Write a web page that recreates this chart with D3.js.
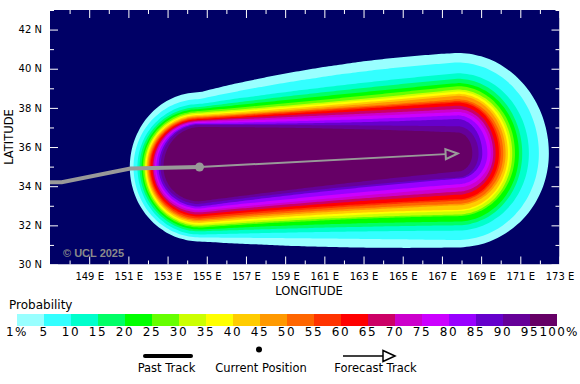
<!DOCTYPE html>
<html>
<head>
<meta charset="utf-8">
<script src="https://cdn.jsdelivr.net/npm/d3@7"></script>
<style>
  body { margin: 0; background: #fff; }
  text { font-family: "DejaVu Sans", sans-serif; }
</style>
</head>
<body>
<svg id="chart" width="580" height="384"></svg>
<script>
// probability levels (lower bound of each band) and colours
var levels = [1, 5, 10, 15, 20, 25, 30, 35, 40, 45, 50, 55, 60, 65, 70, 75, 80, 85, 90, 95];
var levelLabels = ["1%", "5", "10", "15", "20", "25", "30", "35", "40", "45", "50",
                   "55", "60", "65", "70", "75", "80", "85", "90", "95", "100%"];
var colors = ["#99ffff", "#33ffff", "#00ffcc", "#00ff66", "#00ff00", "#66ff00", "#ccff00",
              "#ffff00", "#ffcc00", "#ff9900", "#ff6600", "#ff3300", "#ff0000", "#cc0066",
              "#cc00cc", "#cc00ff", "#9900ff", "#6600cc", "#660099", "#660066"];

// contour extent of each level, degrees from the forecast track
// north/south half widths at current position, mid way, forecast end
var northStart = [3.82, 3.47, 3.22, 3.06, 2.96, 2.86, 2.78, 2.71, 2.66, 2.60, 2.55, 2.50, 2.45, 2.40, 2.35, 2.30, 2.25, 2.20, 2.15, 2.04];
var northMid   = [4.80, 4.30, 3.75, 3.50, 3.30, 3.12, 2.98, 2.90, 2.81, 2.72, 2.64, 2.59, 2.52, 2.42, 2.30, 2.18, 2.04, 1.91, 1.79, 1.62];
var northEnd   = [5.14, 4.65, 4.10, 3.82, 3.60, 3.44, 3.27, 3.17, 3.05, 2.95, 2.77, 2.68, 2.61, 2.44, 2.27, 2.12, 1.95, 1.76, 1.39, 1.07];
var southStart = [3.80, 3.60, 3.45, 3.29, 3.19, 3.09, 3.01, 2.94, 2.86, 2.78, 2.71, 2.63, 2.53, 2.43, 2.32, 2.22, 2.12, 2.02, 1.89, 1.76];
var southMid   = [4.43, 4.00, 3.66, 3.44, 3.27, 3.06, 2.98, 2.86, 2.76, 2.64, 2.55, 2.44, 2.35, 2.21, 2.08, 1.96, 1.79, 1.57, 1.45, 1.28];
var southEnd   = [4.80, 4.42, 3.94, 3.67, 3.48, 3.20, 3.12, 2.95, 2.88, 2.65, 2.57, 2.41, 2.34, 2.11, 1.95, 1.73, 1.57, 1.29, 1.23, 0.92];
// reach west of current position / east of forecast end
var westReach  = [3.56, 3.37, 3.17, 3.06, 2.96, 2.89, 2.81, 2.76, 2.71, 2.66, 2.60, 2.55, 2.50, 2.40, 2.35, 2.27, 2.20, 2.09, 1.99, 1.84];
var eastReach  = [4.66, 4.15, 3.64, 3.30, 3.13, 2.93, 2.79, 2.67, 2.57, 2.45, 2.33, 2.20, 2.11, 1.94, 1.82, 1.69, 1.52, 1.26, 1.07, 0.75];

// storm track
var pastLon = [146.0, 147.6, 151.1, 154.63];
var pastLat = [34.2, 34.2, 34.9, 34.98];
var current = [154.63, 34.98];
var forecastEnd = [167.8, 35.67];

// axes ticks
var lonMajor = d3.range(149, 174, 2);
var lonMinor = d3.range(148, 173, 2);
var latMajor = d3.range(30, 43, 2);
var latMinor = d3.range(31, 44, 2);

var svg = d3.select("#chart");
var x = d3.scaleLinear().domain([147, 173]).range([50, 559.5]);
var y = d3.scaleLinear().domain([30, 43]).range([264.5, 10]);

svg.append("defs").append("clipPath").attr("id", "plotclip")
  .append("rect").attr("x", 50).attr("y", 10).attr("width", 509.5).attr("height", 254.5);

var plot = svg.append("g").attr("clip-path", "url(#plotclip)");
plot.append("rect")
  .attr("x", 50).attr("y", 10).attr("width", 509.5).attr("height", 254.5)
  .attr("fill", "#000066");

// quadratic through start, mid, end
function quad(a, m, b, t) {
  return a * (1 - t) * (1 - 2 * t) + m * 4 * t * (1 - t) + b * t * (2 * t - 1);
}

function outline(i) {
  var pts = [], n = 48, k, t, a, ry;
  var dLon = forecastEnd[0] - current[0], dLat = forecastEnd[1] - current[1];
  for (k = 0; k <= n; k++) {
    t = k / n;
    pts.push([current[0] + t * dLon, current[1] + t * dLat + quad(northStart[i], northMid[i], northEnd[i], t)]);
  }
  for (k = 1; k < n; k++) {
    a = Math.PI / 2 - Math.PI * k / n;
    ry = a > 0 ? northEnd[i] : southEnd[i];
    pts.push([forecastEnd[0] + eastReach[i] * Math.cos(a), forecastEnd[1] + ry * Math.sin(a)]);
  }
  for (k = n; k >= 0; k--) {
    t = k / n;
    pts.push([current[0] + t * dLon, current[1] + t * dLat - quad(southStart[i], southMid[i], southEnd[i], t)]);
  }
  for (k = 1; k < n; k++) {
    a = -Math.PI / 2 - Math.PI * k / n;
    ry = Math.sin(a) > 0 ? northStart[i] : southStart[i];
    pts.push([current[0] + westReach[i] * Math.cos(a), current[1] + ry * Math.sin(a)]);
  }
  return pts;
}

var shape = d3.line().x(function(d) { return x(d[0]); }).y(function(d) { return y(d[1]); });
var smooth = d3.line().x(function(d) { return x(d[0]); }).y(function(d) { return y(d[1]); })
  .curve(d3.curveBasisClosed);

// probability bands, outer to inner
plot.selectAll("path.band").data(levels).enter().append("path")
  .attr("class", "band")
  .attr("d", function(d, i) { return smooth(outline(i)); })
  .attr("fill", function(d, i) { return colors[i]; });

// watermark
plot.append("text").attr("x", 63).attr("y", 257)
  .attr("font-size", 11).attr("font-weight", "bold").attr("fill", "#8a8a8a")
  .style("font-family", "'Liberation Sans', sans-serif")
  .text("\u00a9 UCL 2025");

// past track
var past = pastLon.map(function(d, i) { return [d, pastLat[i]]; });
plot.append("path").attr("d", shape(past))
  .attr("fill", "none").attr("stroke", "#999999").attr("stroke-width", 4);

// forecast track with open arrow head
var px0 = x(current[0]), py0 = y(current[1]), px1 = x(forecastEnd[0]), py1 = y(forecastEnd[1]);
var ang = Math.atan2(py1 - py0, px1 - px0), hl = 12, hw = 5;
var bx = px1 - hl * Math.cos(ang), by = py1 - hl * Math.sin(ang);
plot.append("line").attr("x1", px0).attr("y1", py0).attr("x2", bx).attr("y2", by)
  .attr("stroke", "#999999").attr("stroke-width", 2);
plot.append("path")
  .attr("d", "M" + px1 + "," + py1 +
    "L" + (bx - hw * Math.sin(ang)) + "," + (by + hw * Math.cos(ang)) +
    "L" + (bx + hw * Math.sin(ang)) + "," + (by - hw * Math.cos(ang)) + "Z")
  .attr("fill", "none").attr("stroke", "#999999").attr("stroke-width", 2);

plot.append("circle").attr("cx", px0).attr("cy", py0).attr("r", 4.5).attr("fill", "#999999");

// axes, ticks inside the frame
function styleAxis(g) {
  g.select(".domain").remove();
  g.selectAll(".tick line").attr("stroke", "#fff");
  g.selectAll(".tick text").attr("fill", "#000").style("font-family", "'DejaVu Sans', sans-serif");
}
svg.append("g").attr("transform", "translate(0,264.5)")
  .call(d3.axisBottom(x).tickValues(lonMajor).tickSize(-8).tickPadding(8.4)
    .tickFormat(function(d) { return d + " E"; }))
  .attr("font-size", 10).call(styleAxis);
svg.append("g").attr("transform", "translate(0,264.5)")
  .call(d3.axisBottom(x).tickValues(lonMinor).tickSize(-4).tickFormat("")).call(styleAxis);
svg.append("g").attr("transform", "translate(0,10)")
  .call(d3.axisTop(x).tickValues(lonMajor).tickSize(-8).tickFormat("")).call(styleAxis);
svg.append("g").attr("transform", "translate(0,10)")
  .call(d3.axisTop(x).tickValues(lonMinor).tickSize(-4).tickFormat("")).call(styleAxis);
svg.append("g").attr("transform", "translate(50,0)")
  .call(d3.axisLeft(y).tickValues(latMajor).tickSize(-8).tickPadding(8)
    .tickFormat(function(d) { return d + " N"; }))
  .attr("font-size", 10).call(styleAxis);
svg.append("g").attr("transform", "translate(50,0)")
  .call(d3.axisLeft(y).tickValues(latMinor).tickSize(-4).tickFormat("")).call(styleAxis);
svg.append("g").attr("transform", "translate(559.5,0)")
  .call(d3.axisRight(y).tickValues(latMajor).tickSize(-8).tickFormat("")).call(styleAxis);
svg.append("g").attr("transform", "translate(559.5,0)")
  .call(d3.axisRight(y).tickValues(latMinor).tickSize(-4).tickFormat("")).call(styleAxis);

svg.append("text").attr("x", 309).attr("y", 295).attr("text-anchor", "middle")
  .attr("font-size", 11.5).text("LONGITUDE");
svg.append("text").attr("transform", "translate(12.7,137) rotate(-90)").attr("text-anchor", "middle")
  .attr("font-size", 11.5).text("LATITUDE");

// colour bar legend
var bar = d3.scaleLinear().domain([0, levels.length]).range([17, 557]);
svg.append("text").attr("x", 9).attr("y", 309).attr("font-size", 12).text("Probability");
svg.selectAll("rect.key").data(colors).enter().append("rect")
  .attr("class", "key")
  .attr("x", function(d, i) { return bar(i); })
  .attr("y", 314).attr("width", bar(1) - bar(0)).attr("height", 12)
  .attr("fill", function(d) { return d; });
svg.selectAll("text.keylab").data(levelLabels).enter().append("text")
  .attr("class", "keylab")
  .attr("x", function(d, i) { return i === levels.length ? bar(i) - 17.5 : bar(i); })
  .attr("y", 335.5)
  .attr("text-anchor", function(d, i) { return i === levels.length ? "start" : "middle"; })
  .attr("font-size", 12)
  .attr("letter-spacing", function(d, i) { return i === levels.length ? 1.2 : 1.5; })
  .text(function(d) { return d; });

// track legend
svg.append("line").attr("x1", 145).attr("y1", 356).attr("x2", 191).attr("y2", 356)
  .attr("stroke", "#000").attr("stroke-width", 4).attr("stroke-linecap", "round");
svg.append("text").attr("x", 166.5).attr("y", 372).attr("text-anchor", "middle").attr("font-size", 11.5).text("Past Track");
svg.append("circle").attr("cx", 259).attr("cy", 349.5).attr("r", 3).attr("fill", "#000");
svg.append("text").attr("x", 261).attr("y", 372).attr("text-anchor", "middle").attr("font-size", 11.5).text("Current Position");
svg.append("line").attr("x1", 343).attr("y1", 356).attr("x2", 383).attr("y2", 356)
  .attr("stroke", "#000").attr("stroke-width", 1.5);
svg.append("path").attr("d", "M395,356L383,350.5L383,361.5Z")
  .attr("fill", "#fff").attr("stroke", "#000").attr("stroke-width", 1.5);
svg.append("text").attr("x", 375.5).attr("y", 372).attr("text-anchor", "middle").attr("font-size", 11.5).text("Forecast Track");
</script>
</body>
</html>
